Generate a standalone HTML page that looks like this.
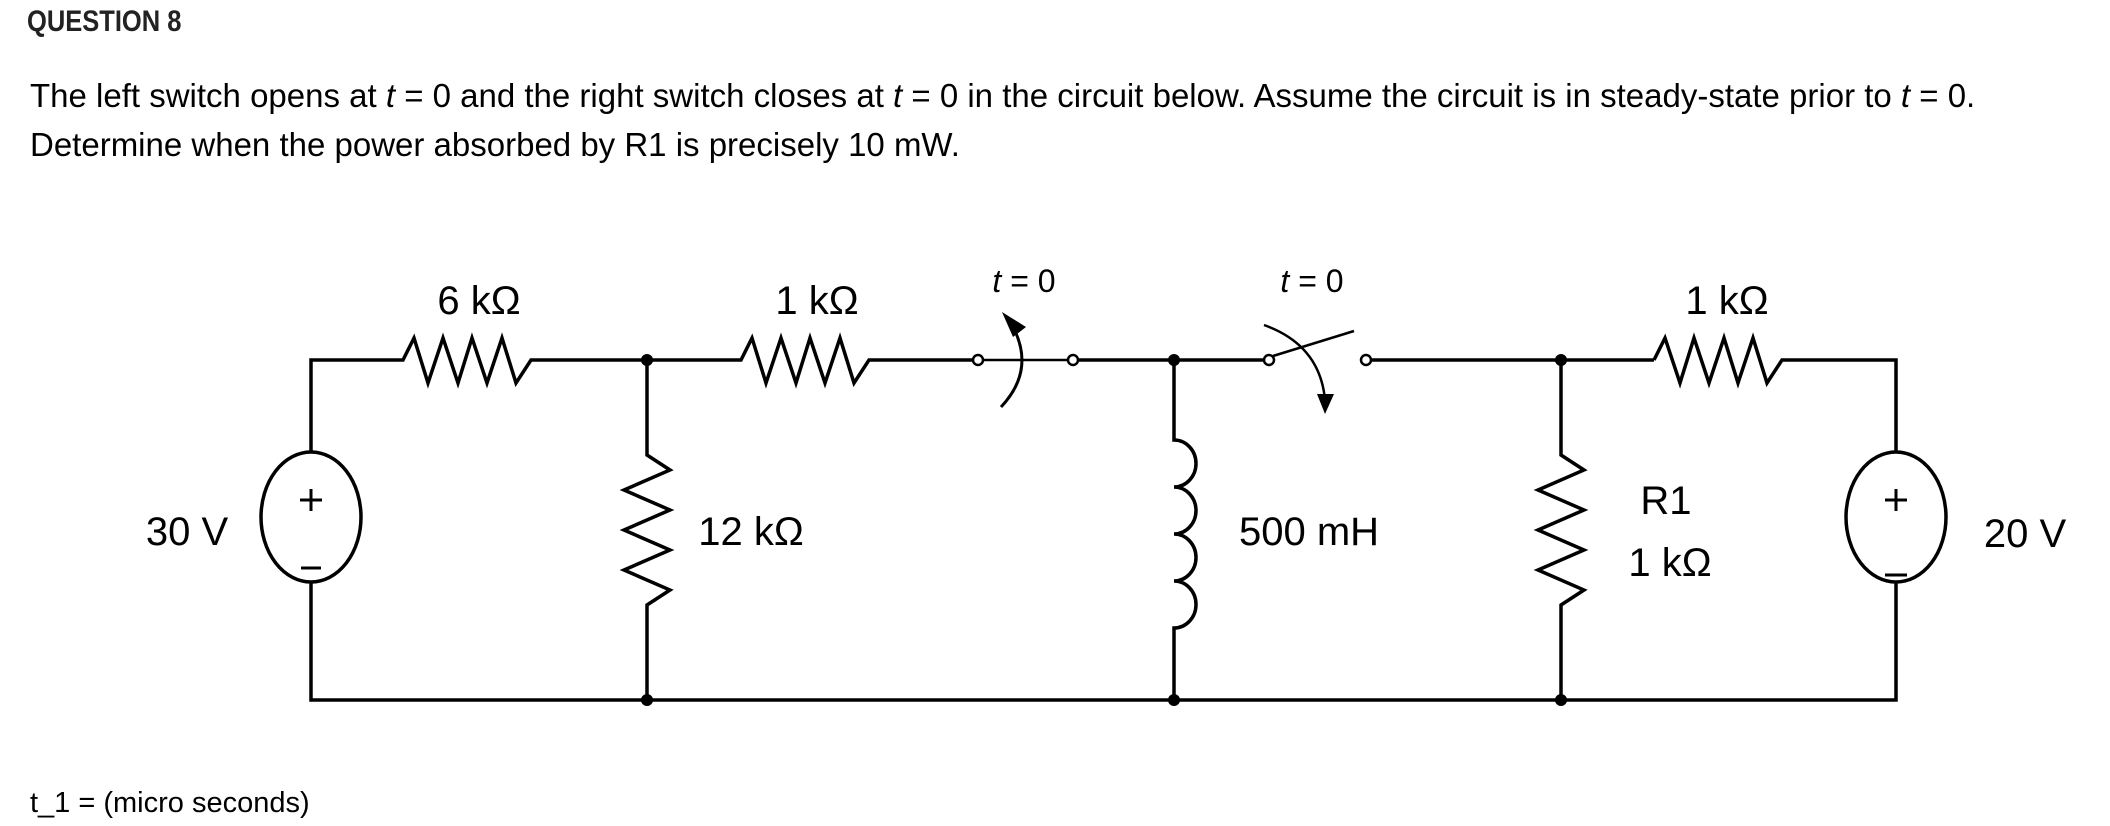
<!DOCTYPE html>
<html><head><meta charset="utf-8"><style>
html,body{margin:0;padding:0;background:#fff;}
body{width:2110px;height:826px;position:relative;overflow:hidden;font-family:"Liberation Sans",sans-serif;color:#000;}
.t{position:absolute;white-space:nowrap;}
</style></head><body>
<div class="t" style="left:27px;top:5px;font-size:30px;font-weight:bold;color:#222;transform:scaleX(0.85);transform-origin:left;">QUESTION 8</div>
<div class="t" style="left:30px;top:77px;font-size:33px;">The left switch opens at <i>t</i> = 0 and the right switch closes at <i>t</i> = 0 in the circuit below. Assume the circuit is in steady-state prior to <i>t</i> = 0.</div>
<div class="t" style="left:30px;top:126px;font-size:33px;">Determine when the power absorbed by R1 is precisely 10 mW.</div>
<div class="t" style="left:30px;top:787px;font-size:29px;">t_1 = (micro seconds)</div>
<svg width="2110" height="826" style="position:absolute;left:0;top:0" xmlns="http://www.w3.org/2000/svg">
<g fill="none" stroke="#000" stroke-width="3.5" stroke-linejoin="miter">
<polyline points="311,453 311,360 403,360 414,338 428,383 443,338 458,383 472,338 487,383 502,338 516,383 531,360 548,360 741,360 752,338 766,383 781,338 796,383 810,338 825,383 840,338 854,383 869,360 973,360"/>
<line x1="983" y1="360" x2="1068" y2="360" stroke-width="2.5"/>
<line x1="1078" y1="360" x2="1264" y2="360"/>
<line x1="1371" y1="360" x2="1654" y2="360"/>
<polyline points="1654,360 1665,338 1680,383 1694,338 1709,383 1724,338 1738,383 1753,338 1767,383 1782,360 1896,360 1896,451"/>
<polyline points="311,582 311,700 1896,700 1896,582"/>
<polyline points="647,360 647,455 670,470 624,490 670,510 624,530 670,550 624,570 670,590 647,605 647,700"/>
<path d="M1174,360 V440 a22,23.5 0 0 1 0,47 a22,23.5 0 0 1 0,47 a22,23.5 0 0 1 0,47 a22,23.5 0 0 1 0,47 V700"/>
<polyline points="1561,360 1561,455 1584,470 1538,490 1584,510 1538,530 1584,550 1538,570 1584,590 1561,605 1561,700"/>
<ellipse cx="311" cy="517" rx="50" ry="65"/>
<ellipse cx="1896" cy="517" rx="50" ry="65"/>
<circle cx="978" cy="360" r="5" stroke-width="2.5"/>
<circle cx="1073" cy="360" r="5" stroke-width="2.5"/>
<path d="M1001,407 Q1034,372 1015,331" stroke-width="3"/>
<circle cx="1269" cy="360" r="5" stroke-width="2.5"/>
<circle cx="1366" cy="360" r="5" stroke-width="2.5"/>
<line x1="1273" y1="356" x2="1354" y2="331" stroke-width="2.5"/>
<path d="M1264,325 Q1320,345 1325,400" stroke-width="2.5"/>
</g>
<g fill="#000">
<polygon points="1002,312 1026,327 1013,337"/>
<polygon points="1317,394 1334,394 1325,414"/>
<circle cx="647" cy="360" r="6"/><circle cx="1174" cy="360" r="6"/><circle cx="1561" cy="360" r="6"/>
<circle cx="647" cy="700" r="6"/><circle cx="1174" cy="700" r="6"/><circle cx="1561" cy="700" r="6"/>
</g>
<g stroke="#000" stroke-width="3">
<line x1="311" y1="489" x2="311" y2="511"/><line x1="300" y1="500" x2="322" y2="500"/>
<line x1="301" y1="568" x2="321" y2="568"/>
<line x1="1896" y1="489" x2="1896" y2="511"/><line x1="1885" y1="500" x2="1907" y2="500"/>
<line x1="1885" y1="575" x2="1907" y2="575"/>
</g>
<g font-family="Liberation Sans, sans-serif" font-size="40" text-anchor="middle">
<text x="479" y="314">6 kΩ</text>
<text x="817" y="314">1 kΩ</text>
<text x="1727" y="314">1 kΩ</text>
<text x="1024" y="292" font-size="32"><tspan font-style="italic">t</tspan> = 0</text>
<text x="1312" y="292" font-size="32"><tspan font-style="italic">t</tspan> = 0</text>
<text x="187" y="545">30 V</text>
<text x="2025" y="547">20 V</text>
<text x="751" y="545">12 kΩ</text>
<text x="1309" y="545">500 mH</text>
<text x="1666" y="514">R1</text>
<text x="1670" y="576">1 kΩ</text>
</g>
</svg>
</body></html>
